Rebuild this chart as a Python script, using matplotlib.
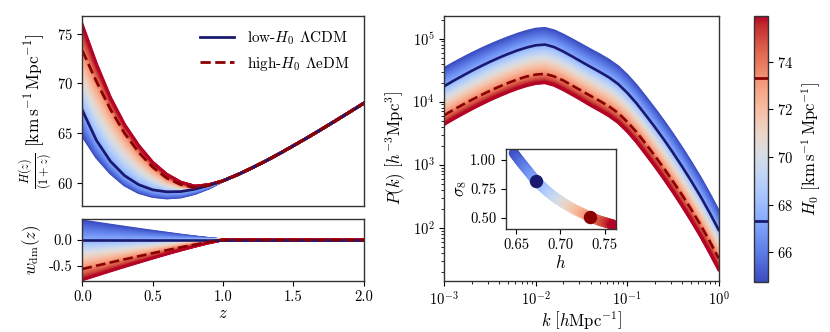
import numpy as np
import matplotlib
matplotlib.use('Agg')
import matplotlib.pyplot as plt
from matplotlib.colors import Normalize
from matplotlib.cm import ScalarMappable
from matplotlib.ticker import FormatStrFormatter

plt.rcParams.update({
    'font.family': 'serif',
    'font.serif': ['cmr10'],
    'mathtext.fontset': 'cm',
    'axes.formatter.use_mathtext': True,
    'font.size': 11,
    'xtick.labelsize': 10.5,
    'ytick.labelsize': 10.5,
    'axes.edgecolor': '#333333',
    'axes.linewidth': 1.0,
})

# H0 values of the four read-off curves (colorbar range ends + the two highlighted models)
H0_MIN, H0_LOW, H0_HIGH, H0_MAX = 64.76, 67.3, 73.3, 75.92
H0_ANCHORS = [H0_MIN, H0_LOW, H0_HIGH, H0_MAX]

# top-left panel: H(z)/(1+z)
z = [0.0, 0.1, 0.2, 0.3, 0.4, 0.5, 0.6, 0.7, 0.8, 0.9, 1.0,
     1.1, 1.2, 1.3, 1.4, 1.5, 1.6, 1.7, 1.8, 1.9, 2.0]
hz_tail = [60.82, 61.48, 62.19, 62.95, 63.75, 64.56, 65.40, 66.26, 67.13, 68.01]
hz_low = [67.30, 64.29, 62.18, 60.75, 59.84, 59.32, 59.12, 59.15, 59.38, 59.75, 60.23] + hz_tail
hz_high = [73.30, 70.20, 67.40, 65.00, 63.10, 61.60, 60.50, 59.85, 59.55, 59.78, 60.23] + hz_tail
hz_min = [64.76, 62.60, 61.00, 59.80, 59.05, 58.65, 58.50, 58.60, 58.95, 59.50, 60.23] + hz_tail
hz_max = [75.92, 72.00, 68.60, 65.90, 63.80, 62.10, 60.90, 60.10, 59.70, 59.85, 60.23] + hz_tail

# bottom-left panel: w_dm(z)
w_tail = [0.0] * 10
w_low = [0.0] * 11 + w_tail
w_high = [-0.560, -0.497, -0.435, -0.374, -0.315, -0.256, -0.199, -0.143, -0.091, -0.041, 0.0] + w_tail
w_min = [0.365, 0.324, 0.284, 0.244, 0.205, 0.167, 0.130, 0.093, 0.059, 0.027, 0.0] + w_tail
w_max = [-0.770, -0.684, -0.598, -0.514, -0.433, -0.352, -0.273, -0.197, -0.125, -0.057, 0.0] + w_tail

# right panel: log10 P(k) on a log10 k grid
log_k = [-3.0, -2.9, -2.8, -2.7, -2.6, -2.5, -2.4, -2.3, -2.2, -2.1, -2.0,
         -1.9, -1.8, -1.7, -1.6, -1.5, -1.4, -1.3, -1.2, -1.1, -1.0,
         -0.9, -0.8, -0.7, -0.6, -0.5, -0.4, -0.3, -0.2, -0.1, 0.0]
logp_low = [4.245, 4.33, 4.41, 4.488, 4.562, 4.632, 4.697, 4.757, 4.812, 4.858, 4.893,
            4.905, 4.865, 4.795, 4.715, 4.632, 4.55, 4.47, 4.385, 4.28, 4.14,
            3.975, 3.79, 3.60, 3.40, 3.19, 2.97, 2.74, 2.50, 2.24, 1.965]
logp_min = [4.525, 4.608, 4.685, 4.76, 4.83, 4.896, 4.957, 5.014, 5.067, 5.113, 5.148,
            5.16, 5.122, 5.055, 4.978, 4.898, 4.818, 4.74, 4.655, 4.552, 4.414,
            4.251, 4.068, 3.88, 3.682, 3.474, 3.256, 3.027, 2.788, 2.529, 2.255]
logp_high = [3.785, 3.87, 3.95, 4.028, 4.102, 4.172, 4.237, 4.297, 4.352, 4.398, 4.428,
             4.44, 4.40, 4.335, 4.255, 4.172, 4.09, 4.01, 3.925, 3.82, 3.68,
             3.52, 3.335, 3.145, 2.945, 2.735, 2.52, 2.29, 2.05, 1.79, 1.515]
logp_max = [3.64, 3.725, 3.805, 3.883, 3.957, 4.027, 4.092, 4.152, 4.207, 4.253, 4.288,
            4.30, 4.26, 4.19, 4.11, 4.027, 3.94, 3.86, 3.775, 3.67, 3.53,
            3.363, 3.175, 2.982, 2.78, 2.568, 2.346, 2.114, 1.872, 1.611, 1.335]

# inset: sigma8 against h
s8_h = [0.6476, 0.655, 0.665, 0.673, 0.685, 0.695, 0.705, 0.715, 0.725, 0.733, 0.745, 0.7592]
s8_vals = [1.06, 0.985, 0.89, 0.815, 0.73, 0.67, 0.62, 0.575, 0.538, 0.508, 0.472, 0.44]
s8_low = (0.673, 0.815)
s8_high = (0.733, 0.508)

LOW_C = '#191970'
HIGH_C = '#8b0000'
cmap = plt.get_cmap('coolwarm')
norm = Normalize(vmin=H0_MIN, vmax=H0_MAX)
family = np.linspace(H0_MIN, H0_MAX, 90)


def blend(h0, curves):
    # curve for an H0 between the read-off ones
    arr = np.asarray(curves, dtype=float)
    return np.array([np.interp(h0, H0_ANCHORS, col) for col in arr.T])


fig = plt.figure(figsize=(8.3, 3.32), dpi=100)
ax_h = fig.add_axes([0.0992, 0.3795, 0.339, 0.5732])
ax_w = fig.add_axes([0.0992, 0.1536, 0.339, 0.1867])
ax_p = fig.add_axes([0.5353, 0.1536, 0.3306, 0.799])
ax_c = fig.add_axes([0.9088, 0.1515, 0.0161, 0.8003])
ax_in = fig.add_axes([0.6096, 0.3102, 0.1322, 0.241])

# --- H(z)/(1+z)
hz_set = [hz_min, hz_low, hz_high, hz_max]
for h0 in family:
    ax_h.plot(z, blend(h0, hz_set), color=cmap(norm(h0)), lw=2.0)
ax_h.plot(z, hz_low, color=LOW_C, lw=2.0, label=r'low-$H_0$ $\Lambda$CDM')
ax_h.plot(z, hz_high, color=HIGH_C, lw=2.0, ls='--', label=r'high-$H_0$ $\Lambda$eDM')
ax_h.set_xlim(0, 2)
ax_h.set_ylim(57.7, 76.8)
ax_h.set_yticks([60, 65, 70, 75])
ax_h.tick_params(bottom=False, labelbottom=False)
ax_h.set_ylabel(r'$\frac{H(z)}{(1+z)}\ [\mathrm{km\,s^{-1}\,Mpc^{-1}}]$', fontsize=12.5,
                labelpad=2)
ax_h.legend(loc='upper right', frameon=False, fontsize=11, handlelength=2.2,
            handletextpad=0.9)

# --- w_dm(z)
w_set = [w_min, w_low, w_high, w_max]
for h0 in family:
    ax_w.plot(z, blend(h0, w_set), color=cmap(norm(h0)), lw=2.0)
ax_w.plot(z, w_low, color=LOW_C, lw=1.9)
ax_w.plot(z, w_high, color=HIGH_C, lw=1.9, ls='--')
ax_w.set_xlim(0, 2)
ax_w.set_ylim(-0.79, 0.40)
ax_w.set_yticks([-0.5, 0.0])
ax_w.set_xticks([0, 0.5, 1.0, 1.5, 2.0])
ax_w.xaxis.set_major_formatter(FormatStrFormatter('%.1f'))
ax_w.yaxis.set_major_formatter(FormatStrFormatter('%.1f'))
ax_w.set_ylabel(r'$w_{\rm dm}(z)$', fontsize=12)
ax_w.set_xlabel(r'$z$', fontsize=12, labelpad=1)

# --- P(k)
k = 10.0 ** np.asarray(log_k)
p_set = [logp_min, logp_low, logp_high, logp_max]
for h0 in family:
    ax_p.plot(k, 10.0 ** blend(h0, p_set), color=cmap(norm(h0)), lw=2.2)
ax_p.plot(k, 10.0 ** np.asarray(logp_low), color=LOW_C, lw=1.9)
ax_p.plot(k, 10.0 ** np.asarray(logp_high), color=HIGH_C, lw=1.9, ls='--')
ax_p.set_xscale('log')
ax_p.set_yscale('log')
ax_p.set_xlim(1e-3, 1)
ax_p.set_ylim(14.3, 2.3e5)
ax_p.set_ylabel(r'$P(k)\ \left[h^{-3}{\rm Mpc}^3\right]$', fontsize=12)
ax_p.set_xlabel(r'$k\ \left[h{\rm Mpc}^{-1}\right]$', fontsize=12, labelpad=0)

# --- inset sigma8(h)
h_family = family / 100.0
ax_in.scatter(h_family, np.interp(h_family, s8_h, s8_vals), c=family, cmap=cmap,
              norm=norm, s=55, linewidths=0)
ax_in.scatter([s8_low[0]], [s8_low[1]], color=LOW_C, s=75, zorder=3)
ax_in.scatter([s8_high[0]], [s8_high[1]], color=HIGH_C, s=75, zorder=3)
ax_in.set_xlim(0.6387, 0.7624)
ax_in.set_ylim(0.402, 1.095)
ax_in.set_xticks([0.65, 0.70, 0.75])
ax_in.set_yticks([0.50, 0.75, 1.00])
ax_in.xaxis.set_major_formatter(FormatStrFormatter('%.2f'))
ax_in.yaxis.set_major_formatter(FormatStrFormatter('%.2f'))
ax_in.set_xlabel(r'$h$', fontsize=12, labelpad=1)
ax_in.set_ylabel(r'$\sigma_8$', fontsize=12, labelpad=1)

# --- colorbar
cb = fig.colorbar(ScalarMappable(norm=norm, cmap=cmap), cax=ax_c)
cb.set_ticks([66, 68, 70, 72, 74])
cb.ax.axhline(H0_LOW, color=LOW_C, lw=2)
cb.ax.axhline(H0_HIGH, color=HIGH_C, lw=2)
cb.set_label(r'$H_0\ [\mathrm{km\,s^{-1}\,Mpc^{-1}}]$', fontsize=12)

fig.savefig('out.png', dpi=100)
